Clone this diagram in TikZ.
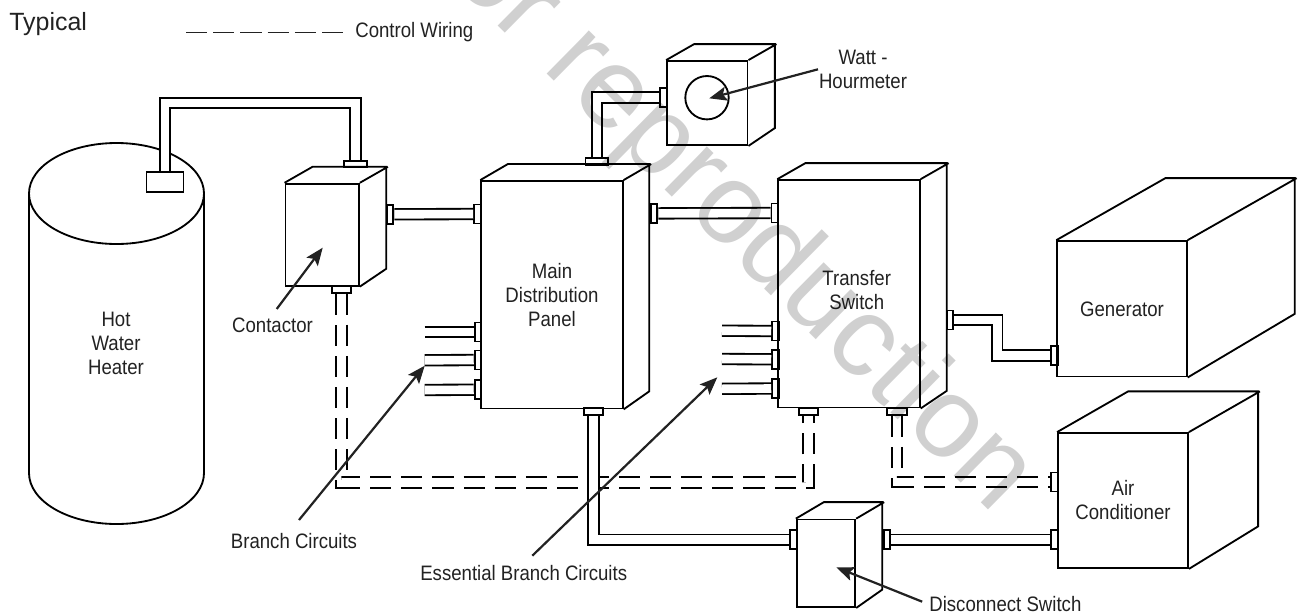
\documentclass[tikz,border=0pt]{standalone}
\usepackage{fontspec}
\setmainfont{Liberation Sans}
\newfontfamily\narrowfont[FakeStretch=0.89]{Liberation Sans}
\usetikzlibrary{arrows.meta,positioning,calc}
\definecolor{inkgray}{HTML}{222222}
\definecolor{markgray}{HTML}{D0D0D0}
\tikzset{
  frontbox/.style={draw=black,line width=1.05pt,inner sep=0pt,align=center,text=inkgray,
    font=\narrowfont\fontsize{11.9}{13.66}\selectfont},
  edge3d/.style={draw=black,line width=1.05pt,line join=miter},
  fitV/.style={draw=black,line width=1.05pt,inner sep=0pt,minimum width=0.134cm,minimum height=0.38cm},
  fitH/.style={draw=black,line width=1.05pt,inner sep=0pt,minimum width=0.39cm,minimum height=0.135cm},
  pipe/.style={draw=black,line width=1.05pt,double=white,double distance=4.9pt,line join=miter},
  ctrlpipe/.style={pipe,dash pattern=on 12pt off 5.7pt},
  pointer/.style={draw=inkgray,line width=1.25pt,-{Stealth[length=10pt,width=8pt,inset=2pt]}},
  lbl/.style={inner sep=0pt,align=center,text=inkgray,font=\narrowfont\fontsize{11.9}{13.66}\selectfont}
}
\begin{document}
\begin{tikzpicture}[x=0.02cm,y=-0.02cm]
  \path[use as bounding box,fill=white] (0,0) rectangle (1298,613);
  \node[inner sep=0pt,anchor=west,text=inkgray,font=\fontsize{14.2}{16}\selectfont] (typ) at (9,24) {Typical};
  \node[lbl,anchor=west] (legtxt) at (355,31.7) {Control Wiring};
  \coordinate (legL) at (186,32.3);
  \coordinate (legR) at (343,32.3);
  \draw[draw=inkgray,line width=0.7pt,dash pattern=on 12pt off 3.5pt] (legL)--(legR);

  \draw[edge3d] (116.5,193.5) ellipse (87.5 and 50.5);
  \draw[edge3d] (29,193.5)--(29,473) arc[start angle=180,end angle=0,x radius=87.5,y radius=51]--(204,193.5);
  \node[lbl] (heatlbl) at (116,343.3) {Hot\\Water\\Heater};
  \node[draw=black,line width=1.05pt,inner sep=0pt,minimum width=0.74cm,minimum height=0.4cm] (heatFit) at (165,182) {};

  \node[frontbox,minimum width=1.47cm,minimum height=2.04cm] (con) at (322.2,234.7) {};
  \draw[edge3d] (con.north west)--++(28,-16)--++(73.7,0)--++(0,102)--(con.south east) (con.north east)--++(28,-16);
  \node[fitH,minimum width=0.46cm] (conTop) at (355.5,164) {};
  \node[fitH] (conBot) at (341.5,289.3) {};
  \node[fitV] (conRight) at (390,214.3) {};

  \node[frontbox,minimum width=2.83cm,minimum height=4.55cm] (pan) at (552,294.7) {Main\\Distribution\\Panel};
  \draw[edge3d] (pan.north west)--++(27.5,-16)--++(141.4,0)--++(0,227.3)--(pan.south east) (pan.north east)--++(27.5,-16);
  \node[fitH,minimum width=0.45cm] (panTop) at (596.8,161.5) {};
  \node[fitV] (panLeft) at (477.5,214) {};
  \node[fitV] (panRight) at (654,213.4) {};
  \node[fitV] (panA) at (478,332) {};
  \node[fitV] (panB) at (478,360) {};
  \node[fitV] (panC) at (478,389.7) {};
  \node[fitH] (panBot) at (593.5,411.7) {};

  \node[frontbox,minimum width=1.61cm,minimum height=1.68cm] (wat) at (707.3,103) {};
  \draw[edge3d] (wat.north west)--++(28,-16)--++(80.7,0)--++(0,84)--(wat.south east) (wat.north east)--++(28,-16);
  \draw[edge3d] (707,97.7) circle (21.7);
  \node[fitV] (watFit) at (663.5,97.5) {};
  \node[lbl] (watlbl) at (863,69) {Watt -\\Hourmeter};

  \node[frontbox,minimum width=2.83cm,minimum height=4.55cm] (tra) at (849,293.8) {};
  \node[lbl] (tralbl) at (856.7,290.5) {Transfer\\Switch};
  \draw[edge3d] (tra.north west)--++(28,-16)--++(141.4,0)--++(0,227.7)--(tra.south east) (tra.north east)--++(28,-16);
  \node[fitV] (traLeft) at (774.8,213) {};
  \node[fitV] (traA) at (775.5,331) {};
  \node[fitV] (traB) at (775.5,359.3) {};
  \node[fitV] (traC) at (775.5,388.5) {};
  \node[fitH] (traBotA) at (808.5,411.2) {};
  \node[fitH] (traBotB) at (897,411.5) {};
  \node[fitV] (traRight) at (950,320) {};

  \node[frontbox,minimum width=2.59cm,minimum height=2.71cm] (gen) at (1122,308.8) {Generator};
  \draw[edge3d] (gen.north west)--++(109,-62)--++(129.4,0)--++(0,135.7)--(gen.south east) (gen.north east)--++(109,-62);
  \node[fitV] (genFit) at (1054.5,355.6) {};

  \node[frontbox,minimum width=2.6cm,minimum height=2.7cm] (air) at (1123,500.5) {Air\\Conditioner};
  \draw[edge3d] (air.north west)--++(71,-40.7)--++(130,0)--++(0,135)--(air.south east) (air.north east)--++(71,-40.7);
  \node[fitV] (airTop) at (1054.5,482) {};
  \node[fitV] (airBot) at (1054.5,539.7) {};

  \node[frontbox,minimum width=1.17cm,minimum height=1.75cm] (dis) at (826,563.3) {};
  \draw[edge3d] (dis.north west)--++(28,-16.5)--++(58.4,0)--++(0,87.5)--(dis.south east) (dis.north east)--++(28,-16.5);
  \node[fitV] (disLeft) at (793.7,539.7) {};
  \node[fitV] (disRight) at (887,539.7) {};

  \draw[ctrlpipe] (conBot.south)--(conBot.south |- 0,482.5)--(traBotA.south |- 0,482.5)--(traBotA.south);
  \draw[ctrlpipe] (traBotB.south) |- (airTop.west);

  \draw[pipe] (heatFit.north)--(heatFit.north |- 0,103) -| (conTop.north);
  \draw[pipe] (conRight.east)--(panLeft.west);
  \draw[pipe] (panTop.north) |- (watFit.west);
  \draw[pipe] (panRight.east)--(traLeft.west);
  \draw[pipe] (traRight.east)--(traRight.east -| 997.3,0) |- (genFit.west);
  \draw[pipe] (panBot.south) |- (disLeft.west);
  \draw[pipe] (disRight.east)--(airBot.west);

  \coordinate (panWireA) at (424.7,332);
  \coordinate (panWireB) at (424.7,360.3);
  \coordinate (panWireC) at (424.7,390);
  \draw[pipe] (panWireA)--(panA.west);
  \draw[pipe] (panWireB)--(panB.west);
  \draw[pipe] (panWireC)--(panC.west);
  \coordinate (traWireA) at (722,330.7);
  \coordinate (traWireB) at (722,359);
  \coordinate (traWireC) at (722,388.8);
  \draw[pipe] (traWireA)--(traA.west);
  \draw[pipe] (traWireB)--(traB.west);
  \draw[pipe] (traWireC)--(traC.west);

  \node[lbl] (conlbl) at (272.5,325) {Contactor};
  \node[lbl] (brlbl) at (294,540.7) {Branch Circuits};
  \node[lbl] (esslbl) at (523.7,573) {Essential Branch Circuits};
  \node[lbl,anchor=west] (dislbl) at (929,604) {Disconnect Switch};

  \coordinate (conTail) at (276.7,309);
  \coordinate (conTip) at (322.7,247.7);
  \coordinate (brTail) at (299,520);
  \coordinate (brTip) at (424.7,365.7);
  \coordinate (essTail) at (532.3,555.7);
  \coordinate (essTip) at (717.3,377.3);
  \coordinate (disTail) at (922.2,601.7);
  \coordinate (disTip) at (836.3,567.3);
  \coordinate (watTail) at (818,69.3);
  \coordinate (watTip) at (709.3,98.3);
  \draw[pointer] (conTail)--(conTip);
  \draw[pointer] (brTail)--(brTip);
  \draw[pointer] (essTail)--(essTip);
  \draw[pointer] (disTail)--(disTip);
  \draw[pointer] (watTail)--(watTip);

  \begin{scope}[blend mode=multiply]
    \node[inner sep=0pt,anchor=base east,rotate=-44.6,text=markgray,font=\fontsize{65}{65}\selectfont] (markword) at (994,515) {for reproduction};
  \end{scope}
\end{tikzpicture}
\end{document}
